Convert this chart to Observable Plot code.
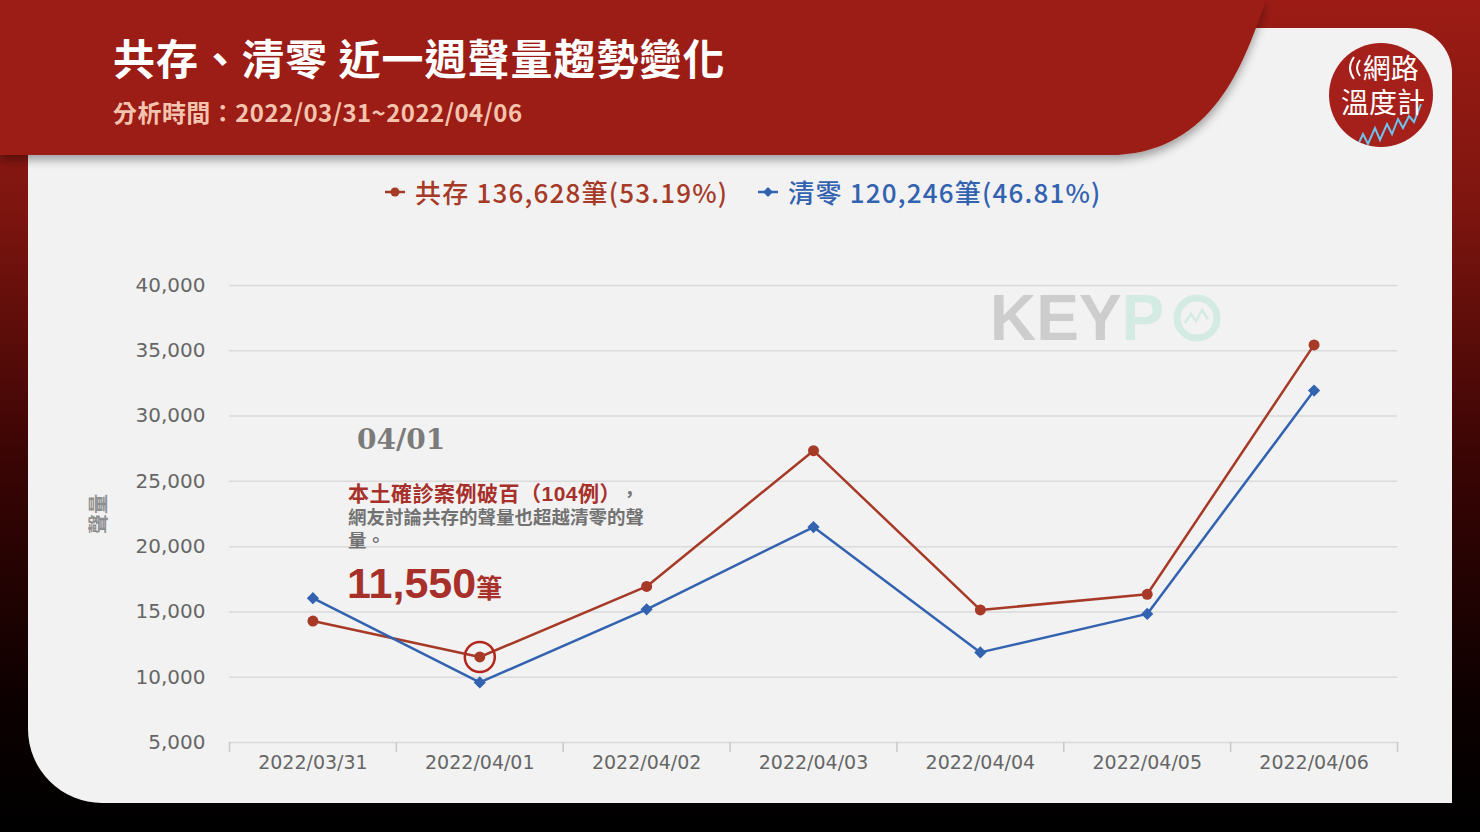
<!DOCTYPE html>
<html lang="zh-Hant-TW">
<head>
<meta charset="utf-8">
<script src="https://cdn.jsdelivr.net/npm/d3@7"></script>
<script src="https://cdn.jsdelivr.net/npm/@observablehq/plot@0.6"></script>
<style>
html,body{margin:0;padding:0;width:1480px;height:832px;overflow:hidden;background:#000;}
#stage{position:relative;width:1480px;height:832px;font-family:"Noto Sans CJK TC","Noto Sans",sans-serif;}
.abs{position:absolute;line-height:1;white-space:nowrap;}
#bg{position:absolute;left:0;top:0;}
#title{left:113px;top:36px;font-size:42px;font-weight:700;color:#fff;letter-spacing:1px;}
#subtitle{left:113px;top:100px;font-size:24px;font-weight:700;color:#f4c3ad;letter-spacing:0.45px;}
#legend{left:385px;top:179px;display:flex;align-items:center;font-size:26px;font-weight:500;letter-spacing:1.2px;}
.li{display:flex;align-items:center;margin-right:30px;}
.li svg{margin-right:10px;}
#logoText{left:1328px;top:53px;width:110px;text-align:center;color:#fff;font-family:"Liberation Sans","Noto Sans CJK TC",sans-serif;font-size:28px;line-height:34px;font-weight:400;}
#watermark{left:990px;top:286px;font-family:"Liberation Sans",sans-serif;font-weight:700;font-size:64px;}
#chart{position:absolute;left:0;top:0;}
#chart svg{overflow:visible;}
#chart [aria-label^="y-axis"] text{font-size:20px;}
.ann{position:absolute;line-height:1;white-space:nowrap;font-weight:700;}
#annText{left:348px;top:482px;line-height:23px;font-family:"Liberation Sans","Noto Sans CJK TC",sans-serif;font-size:18.5px;color:#727272;}
</style>
</head>
<body>
<div id="stage">
<svg id="bg" width="1480" height="832" viewBox="0 0 1480 832">
  <defs>
    <linearGradient id="outer" x1="0" y1="0" x2="0" y2="1">
      <stop offset="0" stop-color="#9c1c15"/>
      <stop offset="0.25" stop-color="#7e150f"/>
      <stop offset="0.55" stop-color="#3a0504"/>
      <stop offset="0.85" stop-color="#0c0000"/>
      <stop offset="1" stop-color="#000"/>
    </linearGradient>
    <filter id="sh" x="-5%" y="-20%" width="110%" height="150%">
      <feDropShadow dx="0" dy="5" stdDeviation="5" flood-color="#000" flood-opacity="0.35"/>
    </filter>
    <clipPath id="logoClip"><circle cx="1381" cy="95" r="52"/></clipPath>
  </defs>
  <rect x="0" y="0" width="1480" height="832" fill="url(#outer)"/>
  <path d="M28,28 H1407 A45,45 0 0 1 1452,73 V803 H102 A74,74 0 0 1 28,729 Z" fill="#f2f2f2"/>
  <path d="M0,0 H1266 C1248,50 1222,138 1135,153 L1118,155 H0 Z" fill="#9c1c15" filter="url(#sh)"/>
  <circle cx="1381" cy="95" r="52" fill="#a5201a"/>
  <path d="M1360,60 Q1354,68 1360,76 M1354,57 Q1346,68 1354,79" stroke="#fff" stroke-width="2" fill="none"/>
  <polyline clip-path="url(#logoClip)" points="1345,150 1352,140 1357,147 1363,134 1368,144 1375,128 1380,140 1387,124 1392,134 1398,119 1403,128 1409,116 1414,122 1421,104" stroke="#6cc3ee" stroke-width="2" fill="none"/>
</svg>
<div id="logoText" class="abs">&nbsp;&nbsp;網路<br>溫度計</div>

<div id="title" class="abs"></div>
<div id="subtitle" class="abs"></div>
<div id="legend" class="abs"></div>
<div id="watermark" class="abs"><span style="color:#cdcdcd">KEY</span><span style="color:#d3ebe2">P</span><svg width="50" height="50" viewBox="0 0 50 50" style="vertical-align:-3px;margin-left:8px"><circle cx="25" cy="25" r="20" fill="none" stroke="#d3ebe2" stroke-width="7"/><polyline points="13,30 19,21 24,28 30,17 36,26" fill="none" stroke="#d3ebe2" stroke-width="2.5"/></svg></div>
<div id="chart"></div>
<div id="annotation"></div>
</div>

<script>
// ---- data ----
const titleText = "共存、清零 近一週聲量趨勢變化";
const subtitleText = "分析時間：2022/03/31~2022/04/06";
const dates = ["2022/03/31","2022/04/01","2022/04/02","2022/04/03","2022/04/04","2022/04/05","2022/04/06"];
const coexist = [14300, 11550, 16950, 27350, 15150, 16350, 35450];
const zeroCovid = [16050, 9600, 15200, 21500, 11900, 14850, 31950];
const seriesNames = ["共存", "清零"];
const seriesTotals = ["136,628筆(53.19%)", "120,246筆(46.81%)"];
const seriesColors = ["#a63a27", "#3262b0"];
const yTicks = [5000, 10000, 15000, 20000, 25000, 30000, 35000, 40000];
const yLabel = "聲量";
const highlightDate = "2022/04/01";
const annDate = "04/01";
const annHeadline = "本土確診案例破百（104例）";
const annBody = ["網友討論共存的聲量也超越清零的聲", "量。"];

// ---- header / legend ----
document.getElementById("title").textContent = titleText;
document.getElementById("subtitle").textContent = subtitleText;
const legend = document.getElementById("legend");
seriesNames.forEach((name, i) => {
  const item = document.createElement("div");
  item.className = "li";
  item.style.color = seriesColors[i];
  const mk = i === 0
    ? `<circle cx="10" cy="8" r="4.5" fill="${seriesColors[i]}"/>`
    : `<path d="M10,3 L15,8 L10,13 L5,8 Z" fill="${seriesColors[i]}"/>`;
  item.innerHTML = `<svg width="20" height="16"><line x1="0" y1="8" x2="20" y2="8" stroke="${seriesColors[i]}" stroke-width="2.5"/>${mk}</svg><span>${name} ${seriesTotals[i]}</span>`;
  legend.appendChild(item);
});

// ---- chart ----
const W = 1480, H = 832, mL = 229, mR = 83, mT = 285, mB = 90;
const rows = dates.flatMap((d, i) => [
  {date: d, series: seriesNames[0], value: coexist[i]},
  {date: d, series: seriesNames[1], value: zeroCovid[i]}
]);
const s0 = rows.filter(r => r.series === seriesNames[0]);
const s1 = rows.filter(r => r.series === seriesNames[1]);
const bw = (W - mL - mR) / dates.length;
const yMin = yTicks[0], yMax = yTicks[yTicks.length - 1];
const tickLen = 10 * (yMax - yMin) / (H - mT - mB);

const chart = Plot.plot({
  width: W, height: H,
  marginLeft: mL, marginRight: mR, marginTop: mT, marginBottom: mB,
  style: {background: "transparent", fontFamily: "DejaVu Sans", fontSize: "19px", color: "#666", overflow: "visible"},
  x: {type: "band", domain: dates, padding: 0, round: false, tickSize: 0, tickPadding: 13, label: null},
  y: {domain: [yMin, yMax], ticks: yTicks, tickFormat: d3.format(","), tickSize: 0, tickPadding: 24, label: null},
  marks: [
    Plot.ruleY(yTicks, {stroke: "#dadada", strokeWidth: 1.5}),
    Plot.ruleX(dates, {x: d => d, y1: yMin, y2: yMin - tickLen, dx: -bw / 2, stroke: "#c9c9c9", strokeWidth: 1.5}),
    Plot.ruleX(dates.slice(-1), {x: d => d, y1: yMin, y2: yMin - tickLen, dx: bw / 2, stroke: "#c9c9c9", strokeWidth: 1.5}),
    Plot.line(s0, {x: "date", y: "value", stroke: seriesColors[0], strokeWidth: 2.5}),
    Plot.line(s1, {x: "date", y: "value", stroke: seriesColors[1], strokeWidth: 2.5}),
    Plot.dot(s0, {x: "date", y: "value", r: 5.5, fill: seriesColors[0]}),
    Plot.dot(s1, {x: "date", y: "value", r: 5.5, symbol: "diamond2", fill: seriesColors[1]}),
    Plot.dot(s0.filter(r => r.date === highlightDate), {x: "date", y: "value", r: 15, fill: "none", stroke: "#b3261e", strokeWidth: 2.5}),
    Plot.text([yLabel], {frameAnchor: "left", textAnchor: "middle", dx: -130, rotate: -90, fontSize: 20, fontWeight: 700, fill: "#8f8f8f", fontFamily: "Noto Sans CJK TC"})
  ]
});
document.getElementById("chart").appendChild(chart);

// ---- annotation ----
const hv = s0.find(r => r.date === highlightDate).value;
const ann = document.getElementById("annotation");
ann.innerHTML = `
  <div class="ann" style="left:357px;top:426px;font-family:'DejaVu Serif',serif;font-size:28px;color:#7b7b7b">${annDate}</div>
  <div id="annText" class="ann"><span style="font-size:21px;letter-spacing:0.5px;color:#a8302a">${annHeadline}</span><span style="margin-left:10px;color:#777">，</span><br>${annBody.join("<br>")}</div>
  <div class="ann" style="left:347px;top:562px;color:#a8302a"><span style="font-family:'Liberation Sans',sans-serif;font-size:43px">${d3.format(",")(hv)}</span><span style="font-size:26px">筆</span></div>
`;
</script>
</body>
</html>
